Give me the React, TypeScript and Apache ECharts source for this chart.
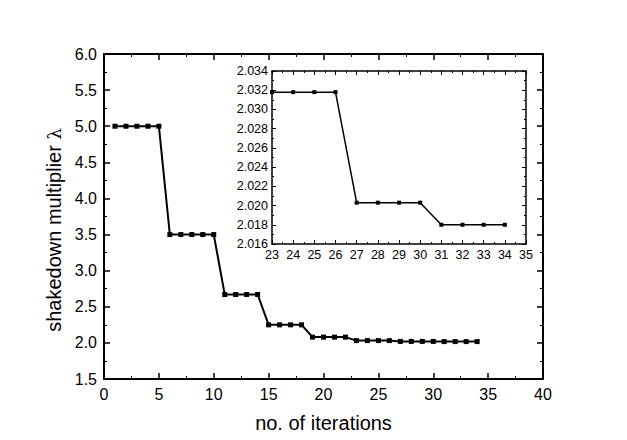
import React, { useEffect, useRef } from "react";
import * as echarts from "echarts";

const iterations = [
  1, 2, 3, 4, 5, 6, 7, 8, 9, 10, 11, 12, 13, 14, 15, 16, 17,
  18, 19, 20, 21, 22, 23, 24, 25, 26, 27, 28, 29, 30, 31, 32, 33, 34,
];
const multiplier = [
  5.0, 5.0, 5.0, 5.0, 5.0,
  3.5, 3.5, 3.5, 3.5, 3.5,
  2.67, 2.67, 2.67, 2.67,
  2.25, 2.25, 2.25, 2.25,
  2.08, 2.08, 2.08, 2.08,
  2.0318, 2.0318, 2.0318, 2.0318,
  2.0203, 2.0203, 2.0203, 2.0203,
  2.018, 2.018, 2.018, 2.018,
];
const insetFrom = 23;

const xTitle = "no. of iterations";
const yTitle = "shakedown multiplier";

const FONT = "'Liberation Sans', Arial, sans-serif";

export default function App() {
  const ref = useRef<HTMLDivElement>(null);
  useEffect(() => {
    if (!ref.current) return;
    const chart = echarts.init(ref.current, null, { renderer: "svg" });
    const mainData = iterations.map((x, i) => [x, multiplier[i]]);
    const insetData = mainData.filter((d) => d[0] >= insetFrom);

    const axisCommon = (w: number, tickLen: number) => ({
      axisLine: { show: true, onZero: false, lineStyle: { color: "#000", width: w } },
      axisTick: { show: true, inside: true, length: tickLen, lineStyle: { color: "#000", width: w > 1.5 ? 1.5 : 1 } },
      minorTick: { show: true, splitNumber: 2, length: tickLen / 2, lineStyle: { color: "#000", width: 1 } },
      splitLine: { show: false },
      minorSplitLine: { show: false },
    });

    chart.setOption({
      animation: false,
      backgroundColor: "#fff",
      textStyle: { fontFamily: FONT },
      grid: [
        { left: 104, right: 84, top: 54, bottom: 61 },
        { left: 272, width: 254, top: 71, height: 173, backgroundColor: "#fff", show: true, borderWidth: 0 },
      ],
      xAxis: [
        {
          gridIndex: 0, type: "value", min: 0, max: 40, interval: 5, position: "bottom",
          ...axisCommon(2, 6),
          axisLabel: { fontSize: 16, color: "#000", margin: 7, fontFamily: FONT },
          name: xTitle, nameLocation: "middle", nameGap: 34,
          nameTextStyle: { fontSize: 20, color: "#000", fontFamily: FONT },
        },
        {
          gridIndex: 0, type: "value", min: 0, max: 40, interval: 5, position: "top",
          ...axisCommon(2, 6), axisLabel: { show: false },
        },
        {
          gridIndex: 1, type: "value", min: 23, max: 35, interval: 1, position: "bottom",
          ...axisCommon(1.5, 4),
          axisLabel: { fontSize: 12.5, color: "#000", margin: 4, fontFamily: FONT },
        },
        {
          gridIndex: 1, type: "value", min: 23, max: 35, interval: 1, position: "top",
          ...axisCommon(1.5, 4), axisLabel: { show: false },
        },
      ],
      yAxis: [
        {
          gridIndex: 0, type: "value", min: 1.5, max: 6, interval: 0.5, position: "left",
          ...axisCommon(2, 6),
          axisLabel: { fontSize: 16, color: "#000", margin: 7, fontFamily: FONT, formatter: (v: number) => v.toFixed(1) },
        },
        {
          gridIndex: 0, type: "value", min: 1.5, max: 6, interval: 0.5, position: "right",
          ...axisCommon(2, 6), axisLabel: { show: false },
        },
        {
          gridIndex: 1, type: "value", min: 2.016, max: 2.034, interval: 0.002, position: "left",
          ...axisCommon(1.5, 4),
          axisLabel: { fontSize: 12.5, color: "#000", margin: 4, fontFamily: FONT, formatter: (v: number) => v.toFixed(3) },
        },
        {
          gridIndex: 1, type: "value", min: 2.016, max: 2.034, interval: 0.002, position: "right",
          ...axisCommon(1.5, 4), axisLabel: { show: false },
        },
      ],
      series: [
        {
          type: "line", xAxisIndex: 0, yAxisIndex: 0, data: mainData,
          symbol: "rect", symbolSize: 5, showSymbol: true,
          lineStyle: { color: "#000", width: 2 }, itemStyle: { color: "#000" },
        },
        {
          type: "line", xAxisIndex: 2, yAxisIndex: 2, data: insetData,
          symbol: "rect", symbolSize: 4, showSymbol: true,
          lineStyle: { color: "#000", width: 1.5 }, itemStyle: { color: "#000" },
        },
      ],
      graphic: [
        {
          type: "text", x: 54, y: 230, rotation: Math.PI / 2,
          style: {
            text: "{a|" + yTitle + " }{b|λ}",
            align: "center", verticalAlign: "middle",
            rich: {
              a: { fontSize: 20, fontFamily: FONT, fill: "#000" },
              b: { fontSize: 18, fontFamily: "'DejaVu Serif', serif", fill: "#000" },
            },
          },
        },
      ],
    });
    return () => chart.dispose();
  }, []);
  return (
    <div
      ref={ref}
      style={{ position: "fixed", left: 0, top: 0, width: 627, height: 440, background: "#fff" }}
    />
  );
}
